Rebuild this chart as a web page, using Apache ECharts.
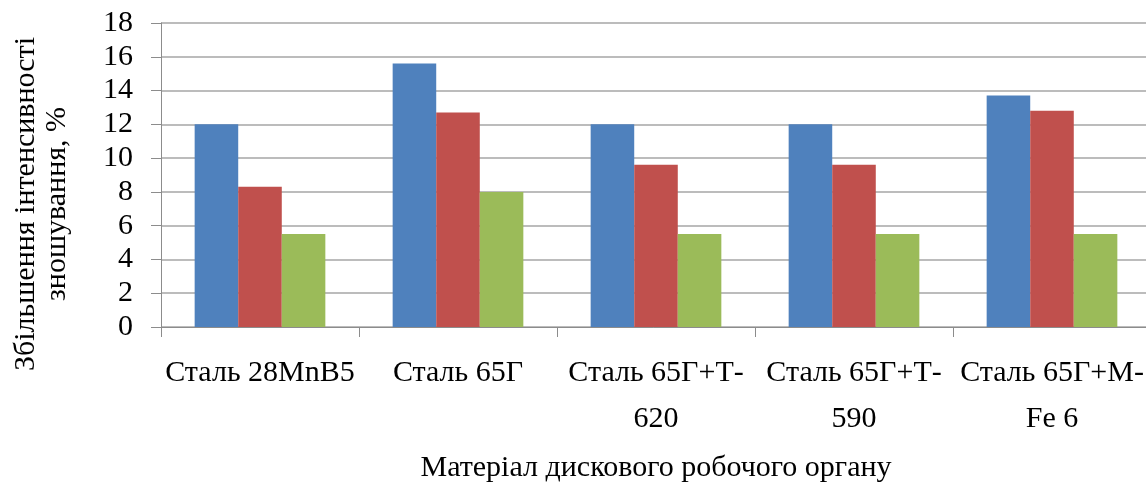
<!DOCTYPE html>
<html>
<head>
<meta charset="utf-8">
<script src="https://cdn.jsdelivr.net/npm/echarts@6/dist/echarts.min.js"></script>
<style>
  html, body { margin: 0; padding: 0; background: #fff; }
  #chart { width: 1146px; height: 486px; }
</style>
</head>
<body>
<div id="chart"></div>
<script>
// категорії (матеріал диска)
const categories = ['Сталь 28MnB5', 'Сталь 65Г', 'Сталь 65Г+Т-620', 'Сталь 65Г+Т-590', 'Сталь 65Г+М-Fe 6']
// три ряди, значення зчитані з рисунку
const series1 = [12, 15.6, 12, 12, 13.7]
const series2 = [8.3, 12.7, 9.6, 9.6, 12.8]
const series3 = [5.5, 8.0, 5.5, 5.5, 5.5]
const colors = ['#4F81BD', '#C0504D', '#9BBB59']

const yTitle = 'Збільшення інтенсивності\nзношування, %'
const xTitle = 'Матеріал дискового робочого органу'

const font = '"Liberation Serif", "Times New Roman", serif'

const chart = echarts.init(document.getElementById('chart'))

const mkSeries = (data, i) => ({
  type: 'bar',
  data: data,
  barGap: '0%',
  barCategoryGap: '34%',
  itemStyle: { color: colors[i] },
  silent: true
})

chart.setOption({
  animation: false,
  textStyle: { fontFamily: font },
  grid: { left: 161, right: -5, top: 23, bottom: 159, containLabel: false, outerBoundsMode: 'none' },
  xAxis: {
    type: 'category',
    data: categories,
    axisLine: { lineStyle: { color: '#8c8c8c', width: 1 } },
    axisTick: { show: true, length: 10, lineStyle: { color: '#8c8c8c' } },
    axisLabel: {
      color: '#000',
      fontFamily: font,
      fontSize: 30,
      lineHeight: 46,
      margin: 23,
      interval: 0,
      // розрив рядка після дефісу, як у Word
      formatter: (v) => v.replace(/-/, '-\n')
    },
    name: xTitle,
    nameLocation: 'middle',
    nameGap: 126,
    nameTextStyle: { color: '#000', fontFamily: font, fontSize: 30, verticalAlign: 'top' }
  },
  yAxis: {
    type: 'value',
    min: 0,
    max: 18,
    interval: 2,
    axisLine: { show: true, lineStyle: { color: '#8c8c8c' } },
    axisTick: { show: true, length: 10, lineStyle: { color: '#8c8c8c' } },
    splitLine: { lineStyle: { color: '#a6a6a6', width: 1.5 } },
    axisLabel: { color: '#000', fontFamily: font, fontSize: 30, margin: 28 }
  },
  graphic: [{
    type: 'text',
    x: 42,
    y: 204,
    rotation: Math.PI / 2,
    style: {
      text: yTitle,
      font: '30px ' + font,
      fill: '#000',
      align: 'center',
      verticalAlign: 'middle',
      lineHeight: 31
    }
  }],
  series: [mkSeries(series1, 0), mkSeries(series2, 1), mkSeries(series3, 2)]
})
</script>
</body>
</html>
